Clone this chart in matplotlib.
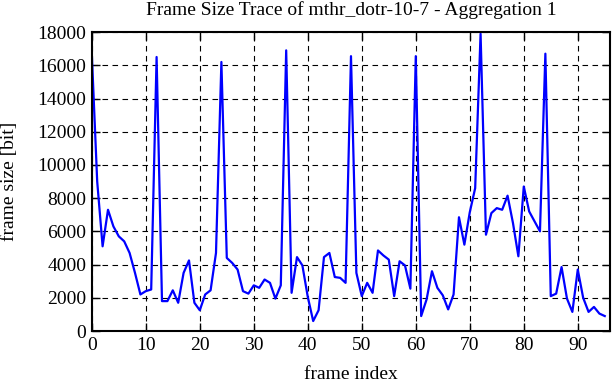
import numpy as np
import matplotlib
matplotlib.use("Agg")
import matplotlib.pyplot as plt

# frame sizes in bit
frame_size = [16700, 9000, 5100, 7300, 6300, 5700, 5400, 4700, 3500, 2200,
              2400, 2500, 16500, 1800, 1800, 2450, 1700, 3500, 4250, 1700,
              1250, 2200, 2450, 4700, 16200, 4400, 4100, 3700, 2400, 2250,
              2750, 2600, 3100, 2900, 1950, 2750, 16900, 2300, 4450, 3950,
              2050, 600, 1250, 4450, 4700, 3250, 3200, 2900, 16550, 3500,
              2100, 2900, 2300, 4850, 4550, 4300, 2100, 4200, 3950, 2550,
              16550, 900, 1900, 3600, 2600, 2150, 1300, 2200, 6850, 5200,
              7150, 8600, 17900, 5800, 7100, 7400, 7300, 8150, 6500, 4500,
              8700, 7200, 6600, 6000, 16700, 2100, 2250, 3850, 1950, 1150,
              3700, 2000, 1150, 1450, 1050, 900]
frame_index = np.arange(len(frame_size))

x_ticks = list(range(0, 100, 10))
y_ticks = list(range(0, 18001, 2000))

plt.rcParams['font.family'] = ['Liberation Serif', 'DejaVu Serif']
plt.rcParams['font.size'] = 14

fig = plt.figure(figsize=(6.12, 3.82), dpi=100)
ax = fig.add_axes([0.150, 0.1335, 0.847, 0.7825])

ax.plot(frame_index, frame_size, color='#0000ff', lw=1.6)

ax.set_xlim(0, 96)
ax.set_ylim(0, 18000)
ax.set_xticks(x_ticks)
ax.set_yticks(y_ticks)
ax.grid(True, color='black', ls=(0, (5, 4)), lw=0.8)
ax.tick_params(direction='in', top=True, right=True, length=6, width=1,
               labelsize=14, pad=4)
for s in ax.spines.values():
    s.set_linewidth(1.5)

ax.set_title('Frame Size Trace of mthr_dotr-10-7 - Aggregation 1', fontsize=14, pad=12)
ax.set_xlabel('frame index', fontsize=14, labelpad=9)
ax.set_ylabel('frame size [bit]', fontsize=14, labelpad=14)

fig.savefig('out.png', dpi=100)
